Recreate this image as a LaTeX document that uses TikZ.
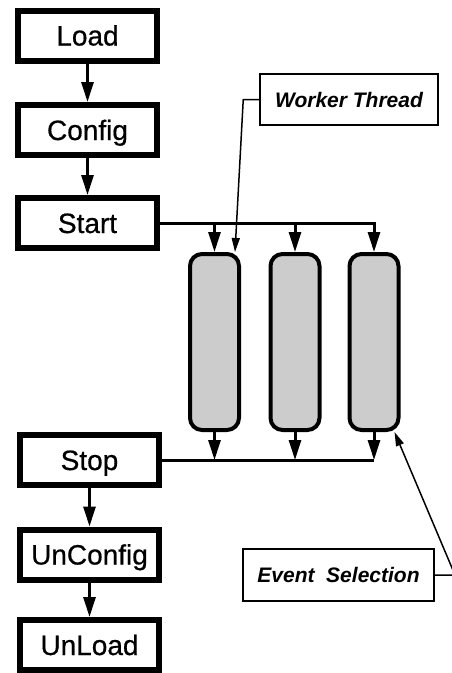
\documentclass[tikz,border=0pt]{standalone}
\usepackage{fontspec}
\setmainfont{Liberation Sans}
\newfontfamily\stagefont[FakeBold=0.6]{Liberation Sans}
\usetikzlibrary{arrows.meta}
\definecolor{threadgray}{RGB}{204,204,204}
\begin{document}
\begin{tikzpicture}[x=1pt,y=-1pt,
    stage/.style={draw,line width=6pt,minimum width=139pt,minimum height=50pt,inner sep=0pt,
        font=\stagefont\fontsize{28}{32}\selectfont,text height=20pt,text depth=0pt},
    thread/.style={draw,line width=4pt,fill=threadgray,rounded corners=12pt,
        minimum width=49pt,minimum height=176pt,inner sep=0pt},
    note/.style={draw,line width=1.5pt,inner sep=0pt,
        font=\fontsize{21}{25}\selectfont\bfseries\itshape,text height=15pt,text depth=0pt},
    flow/.style={line width=3pt,-{Triangle[length=20pt,width=12pt]}},
    pointer/.style={line width=1.5pt,-{Triangle[length=14pt,width=8pt]}}]
    \useasboundingbox (0,0) rectangle (452,673);

    % life cycle
    \node[stage] (load) at (87.5,35.5) {Load};
    \node[stage] (config) at (87.5,130) {Config};
    \node[stage] (start) at (87.5,223) {Start};
    \node[stage] (stop) at (89.5,460) {Stop};
    \node[stage] (unconfig) at (89.5,554.5) {UnConfig};
    \node[stage] (unload) at (89.5,645) {UnLoad};

    \draw[flow] (load) -- (config);
    \draw[flow] (config) -- (start);
    \draw[flow] (stop) -- (unconfig);
    \draw[flow] (unconfig) -- (unload);

    % worker threads
    \node[thread] (t1) at (214.5,342) {};
    \node[thread] (t2) at (295,342) {};
    \node[thread] (t3) at (374,342) {};

    \draw[flow] (start.east) -| (t3.north);
    \foreach \t in {t1,t2}
        \draw[flow] (\t.north |- start.east) -- (\t.north);
    \draw[line width=3pt] (stop.east) -- (t3.south |- stop.east);
    \foreach \t in {t1,t2,t3}
        \draw[flow] (\t.south) -- (\t.south |- stop.east);

    % notes
    \node[note,minimum width=178pt,minimum height=51pt] (worker) at (349,99.5) {Worker Thread};
    \node[note,minimum width=191pt,minimum height=52pt] (event) at (338.5,575) {Event\ \ Selection};

    \coordinate (bend) at (455,575);
    \draw[pointer] (worker.west) -- ++(-16,0) -- ([xshift=-6pt]t1.north east);
    \draw[pointer] (event.east) -- (bend) -- ([xshift=-6pt]t3.south east);
\end{tikzpicture}
\end{document}
